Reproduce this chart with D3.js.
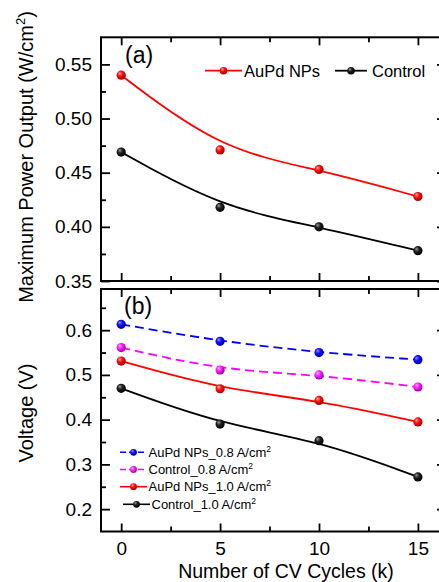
<!DOCTYPE html>
<html>
<head>
<meta charset="utf-8">
<script src="https://cdn.jsdelivr.net/npm/d3@7"></script>
<style>
  body { margin: 0; background: #fff; }
  svg { display: block; font-family: "Liberation Sans", Arial, sans-serif; }
  .tick line { stroke: #000; stroke-width: 1.8; }
  .tick text { fill: #000; }
</style>
</head>
<body>
<script>
// cycles (k) and values
const cycles = [0, 5, 10, 15];
const powerAuPd = [0.540, 0.471, 0.453, 0.428];
const powerControl = [0.469, 0.418, 0.400, 0.378];
const vAuPd08 = [0.613, 0.575, 0.550, 0.534];
const vControl08 = [0.561, 0.511, 0.500, 0.473];
const vAuPd10 = [0.531, 0.469, 0.443, 0.395];
const vControl10 = [0.470, 0.390, 0.353, 0.272];

const xTicks = [0, 5, 10, 15];
const xMinor = [2.5, 7.5, 12.5];
const powerTicks = [0.35, 0.40, 0.45, 0.50, 0.55];
const powerMinor = [0.375, 0.425, 0.475, 0.525];
const voltTicks = [0.2, 0.3, 0.4, 0.5, 0.6];
const voltMinor = [0.25, 0.35, 0.45, 0.55, 0.65];

const W = 439, H = 582;
const left = 101, right = 446;
const topA = 37.3, botA = 281;
const topB = 289, botB = 531.5;

const svg = d3.select('body').append('svg')
  .attr('width', W).attr('height', H);

// sphere-like markers
const defs = svg.append('defs');
function sphere(id, light, base, dark) {
  const g = defs.append('radialGradient').attr('id', id)
    .attr('cx', '40%').attr('cy', '40%').attr('r', '60%')
    .attr('fx', '35%').attr('fy', '30%');
  g.append('stop').attr('offset', '0%').attr('stop-color', light);
  g.append('stop').attr('offset', '45%').attr('stop-color', base);
  g.append('stop').attr('offset', '100%').attr('stop-color', dark);
}
sphere('gRed', '#ffb0b0', '#ff1010', '#a00000');
sphere('gBlack', '#9a9a9a', '#202020', '#000');
sphere('gBlue', '#9090ff', '#1010ff', '#0000a0');
sphere('gMag', '#ffb0ff', '#ff20ff', '#a000a0');

const x = d3.scaleLinear().domain([-1.02, 16.42]).range([left, right]);
const yA = d3.scaleLinear().domain([0.35, 0.575]).range([botA, topA]);
const yB = d3.scaleLinear().domain([0.15, 0.692]).range([botB, topB]);

function frame(top, bot, y, major, minor, labels) {
  // left axis with labels, ticks inward
  svg.append('g').attr('transform', `translate(${left},0)`)
    .call(d3.axisLeft(y).tickValues(major).tickSize(-9).tickPadding(9)
      .tickFormat(labels))
    .call(g => g.select('.domain').remove())
    .selectAll('text').attr('font-size', 19);
  svg.append('g').attr('transform', `translate(${left},0)`)
    .call(d3.axisLeft(y).tickValues(minor).tickSize(-5).tickFormat(''))
    .call(g => g.select('.domain').remove());
  // right mirror
  svg.append('g').attr('transform', `translate(${right},0)`)
    .call(d3.axisRight(y).tickValues(major).tickSize(-9).tickFormat(''))
    .call(g => g.select('.domain').remove());
  // top and bottom x ticks
  [[top, d3.axisTop], [bot, d3.axisBottom]].forEach(([yy, ax]) => {
    svg.append('g').attr('transform', `translate(0,${yy})`)
      .call(ax(x).tickValues(xTicks).tickSize(-8).tickFormat(''))
      .call(g => g.select('.domain').remove());
    svg.append('g').attr('transform', `translate(0,${yy})`)
      .call(ax(x).tickValues(xMinor).tickSize(-5).tickFormat(''))
      .call(g => g.select('.domain').remove());
  });
  svg.append('rect')
    .attr('x', left).attr('y', top)
    .attr('width', right - left).attr('height', bot - top)
    .attr('fill', 'none').attr('stroke', '#000').attr('stroke-width', 2);
}

frame(topA, botA, yA, powerTicks, powerMinor, d3.format('.2f'));
frame(topB, botB, yB, voltTicks, voltMinor, d3.format('.1f'));

// x tick labels under panel (b)
svg.append('g').attr('transform', `translate(0,${botB})`)
  .call(d3.axisBottom(x).tickValues(xTicks).tickSize(0).tickPadding(10))
  .call(g => g.select('.domain').remove())
  .selectAll('text').attr('font-size', 19);

function series(y, vals, color, grad, dash) {
  const pts = cycles.map((c, i) => [c, vals[i]]);
  svg.append('path')
    .datum(pts)
    .attr('fill', 'none')
    .attr('stroke', color)
    .attr('stroke-width', 1.8)
    .attr('stroke-dasharray', dash || null)
    .attr('d', d3.line().x(d => x(d[0])).y(d => y(d[1])).curve(d3.curveBasis));
  svg.append('g').selectAll('circle').data(pts).join('circle')
    .attr('cx', d => x(d[0])).attr('cy', d => y(d[1]))
    .attr('r', 4.6).attr('fill', `url(#${grad})`);
}

series(yA, powerAuPd, '#ff0000', 'gRed');
series(yA, powerControl, '#000', 'gBlack');

series(yB, vAuPd08, '#0000ff', 'gBlue', '9,5');
series(yB, vControl08, '#ff00ff', 'gMag', '9,5');
series(yB, vAuPd10, '#ff0000', 'gRed');
series(yB, vControl10, '#000', 'gBlack');

// panel labels
svg.append('text').attr('x', 125).attr('y', 63).attr('font-size', 23).text('(a)');
svg.append('text').attr('x', 124).attr('y', 314).attr('font-size', 23).text('(b)');

// legend (a)
const legA = [
  { name: 'AuPd NPs', color: '#ff0000', grad: 'gRed', x0: 205, x1: 242, tx: 244 },
  { name: 'Control', color: '#000', grad: 'gBlack', x0: 335, x1: 367, tx: 372 }
];
legA.forEach(d => {
  const yy = 70.7;
  svg.append('line').attr('x1', d.x0).attr('x2', d.x1).attr('y1', yy).attr('y2', yy)
    .attr('stroke', d.color).attr('stroke-width', 1.8);
  svg.append('circle').attr('cx', (d.x0 + d.x1) / 2).attr('cy', yy).attr('r', 3.8)
    .attr('fill', `url(#${d.grad})`);
  svg.append('text').attr('x', d.tx).attr('y', yy + 6).attr('font-size', 16.5).text(d.name);
});

// legend (b)
const legB = [
  { name: 'AuPd NPs_0.8 A/cm', color: '#0000ff', grad: 'gBlue', y: 452.3, x0: 120, dash: '6,3' },
  { name: 'Control_0.8 A/cm', color: '#ff00ff', grad: 'gMag', y: 469.5, x0: 120, dash: '6,3' },
  { name: 'AuPd NPs_1.0 A/cm', color: '#ff0000', grad: 'gRed', y: 486.7, x0: 120 },
  { name: 'Control_1.0 A/cm', color: '#000', grad: 'gBlack', y: 504.3, x0: 123 }
];
legB.forEach(d => {
  svg.append('line').attr('x1', d.x0).attr('x2', d.x0 + 27).attr('y1', d.y).attr('y2', d.y)
    .attr('stroke', d.color).attr('stroke-width', 1.6)
    .attr('stroke-dasharray', d.dash || null);
  svg.append('circle').attr('cx', d.x0 + 13.5).attr('cy', d.y).attr('r', 3.4)
    .attr('fill', `url(#${d.grad})`);
  const t = svg.append('text').attr('x', d.x0 + 28.5).attr('y', d.y + 4.6).attr('font-size', 13);
  t.append('tspan').text(d.name);
  t.append('tspan').attr('font-size', 8.5).attr('dy', -5).text('2');
});

// axis titles
const tA = svg.append('text')
  .attr('transform', 'translate(33,157) rotate(-90)')
  .attr('text-anchor', 'middle').attr('font-size', 20);
tA.append('tspan').text('Maximum Power Output (W/cm');
tA.append('tspan').attr('font-size', 13).attr('dy', -8).text('2');
tA.append('tspan').attr('dy', 8).text(')');

svg.append('text')
  .attr('transform', 'translate(33,413) rotate(-90)')
  .attr('text-anchor', 'middle').attr('font-size', 20)
  .text('Voltage (V)');

svg.append('text')
  .attr('x', 286).attr('y', 578)
  .attr('text-anchor', 'middle').attr('font-size', 19.5)
  .text('Number of CV Cycles (k)');
</script>
</body>
</html>
